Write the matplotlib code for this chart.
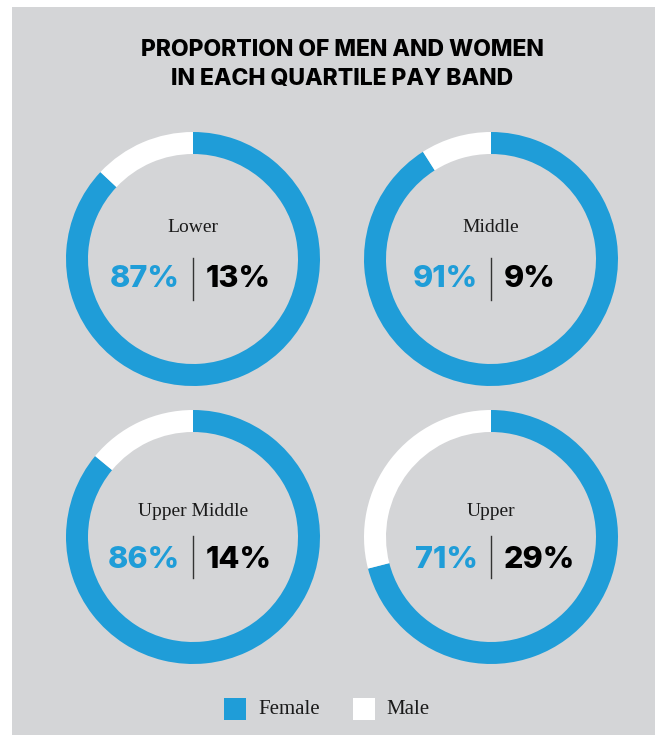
import matplotlib.pyplot as plt
from matplotlib.patches import Rectangle
from matplotlib.lines import Line2D

bands = ['Lower', 'Middle', 'Upper Middle', 'Upper']
female = [87, 91, 86, 71]
male = [13, 9, 14, 29]

BLUE = '#1f9dd8'
GREY = '#d4d5d7'
W, H = 655, 735

centers = [(193, 259), (491, 259), (193, 537), (491, 537)]
R = 127
label_dy = [-31, -31, -26, -26]
pct_dy = [20, 20, 23, 23]

fig = plt.figure(figsize=(W / 100, H / 100), dpi=100)
fig.patches.append(Rectangle((12 / W, 0), 1 - 12 / W, 1 - 7 / H,
                             transform=fig.transFigure, facecolor=GREY,
                             edgecolor='none', zorder=-10))


def fx(x):
    return x / W


def fy(y):
    return 1 - y / H


fig.text(fx(342), fy(50), 'PROPORTION OF MEN AND WOMEN', ha='center', va='center',
         fontsize=16.5, fontweight='heavy', family='Inter', color='black')
fig.text(fx(342), fy(79), 'IN EACH QUARTILE PAY BAND', ha='center', va='center',
         fontsize=16.5, fontweight='heavy', family='Inter', color='black')

for i, (name, f, m) in enumerate(zip(bands, female, male)):
    cx, cy = centers[i]
    ax = fig.add_axes([fx(cx - R), fy(cy + R), 2 * R / W, 2 * R / H])
    ax.pie([f, m], colors=[BLUE, 'white'], startangle=90, counterclock=False,
           radius=1, wedgeprops=dict(width=22 / R, linewidth=0))
    ax.set_xlim(-1, 1)
    ax.set_ylim(-1, 1)
    ax.axis('off')

    fig.text(fx(cx), fy(cy + label_dy[i]), name, ha='center', va='center',
             fontsize=14, family='Liberation Serif', color='#1a1a1a')
    fig.text(fx(cx - 13), fy(cy + pct_dy[i]), f'{f}%', ha='right', va='center',
             fontsize=22, fontweight='heavy', family='Inter', color=BLUE)
    fig.text(fx(cx + 13), fy(cy + pct_dy[i]), f'{m}%', ha='left', va='center',
             fontsize=22, fontweight='heavy', family='Inter', color='black')
    fig.add_artist(Line2D([fx(cx), fx(cx)], [fy(cy - 1), fy(cy + 41)],
                          transform=fig.transFigure, color='#333333', lw=1))

# legend
fig.patches.append(Rectangle((fx(224), fy(720)), 22 / W, 22 / H, transform=fig.transFigure,
                             facecolor=BLUE, edgecolor='none'))
fig.text(fx(258), fy(709), 'Female', ha='left', va='center', fontsize=15,
         family='Liberation Serif', color='#1a1a1a')
fig.patches.append(Rectangle((fx(353), fy(720)), 22 / W, 22 / H, transform=fig.transFigure,
                             facecolor='white', edgecolor='none'))
fig.text(fx(386), fy(709), 'Male', ha='left', va='center', fontsize=15,
         family='Liberation Serif', color='#1a1a1a')

fig.savefig('out.png', dpi=100, facecolor='white')
